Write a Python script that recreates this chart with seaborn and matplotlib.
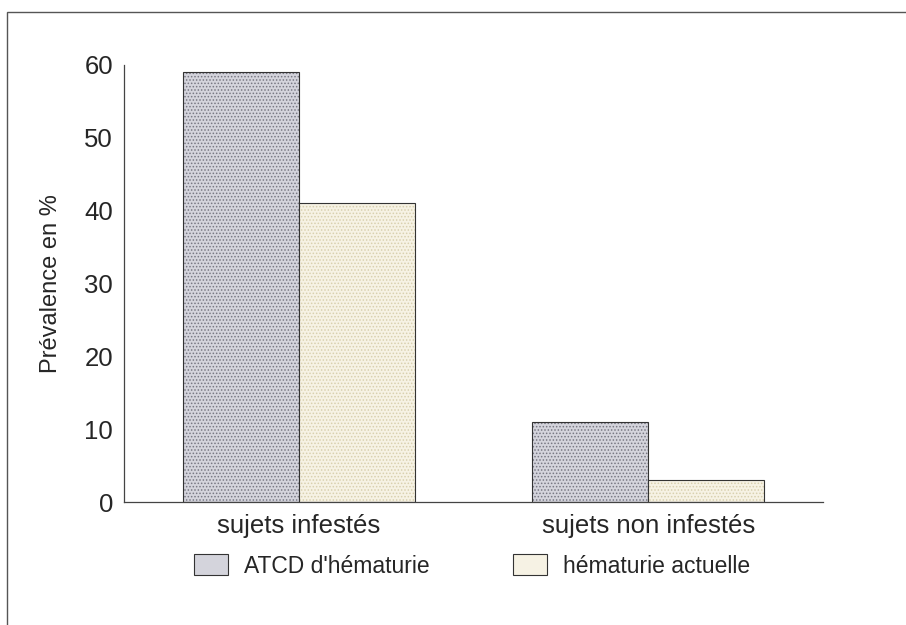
import matplotlib
matplotlib.use("Agg")
import matplotlib.pyplot as plt
import pandas as pd
import seaborn as sns
from matplotlib.patches import Rectangle

categories = ["sujets infestés", "sujets non infestés"]
series = ["ATCD d'hématurie", "hématurie actuelle"]
atcd_values = [59, 11]
actuelle_values = [41, 3]
y_ticks = [0, 10, 20, 30, 40, 50, 60]

df = pd.DataFrame({
    "groupe": categories * 2,
    "serie": [series[0]] * 2 + [series[1]] * 2,
    "valeur": atcd_values + actuelle_values,
})

sns.set_style("white")
plt.rcParams["font.family"] = ["Liberation Sans", "DejaVu Sans"]
plt.rcParams["hatch.linewidth"] = 0.7

fig = plt.figure(figsize=(9.06, 6.25), dpi=100)
ax = fig.add_axes([124 / 906, 1 - 502 / 625, (823 - 124) / 906, (502 - 65) / 625])

palette = {series[0]: "#d4d4dc", series[1]: "#f6f2e4"}
sns.barplot(data=df, x="groupe", y="valeur", hue="serie", order=categories,
            hue_order=series, palette=palette, width=0.665, ax=ax,
            edgecolor="#333333", linewidth=0.8, saturation=1)

# fine dotted texture on the bars
hatch_colors = ["#777782", "#d8d0ae"]
for cont, hc in zip(ax.containers, hatch_colors):
    for bar in cont:
        bar.set_hatch(".....")
        bar._hatch_color = matplotlib.colors.to_rgba(hc)

ax.set_xlim(-0.5, 1.5)
ax.set_ylim(0, 60)
ax.set_yticks(y_ticks)
ax.set_xticks([0, 1])
ax.set_xticklabels(categories)
ax.set_xticks([-0.5, 0.5, 1.5], minor=True)
ax.tick_params(axis="x", which="major", length=0, pad=9, labelsize=18.5)
ax.tick_params(axis="x", which="minor", length=8, direction="inout", color="#444444")
ax.tick_params(axis="y", length=5, direction="out", labelsize=18.5, color="#444444", pad=3)
ax.set_xlabel("")
ax.set_ylabel("Prévalence en %", fontsize=17, labelpad=16)
for side in ["top", "right"]:
    ax.spines[side].set_visible(False)
for side in ["left", "bottom"]:
    ax.spines[side].set_color("#444444")
    ax.spines[side].set_linewidth(0.9)

handles, labels = ax.get_legend_handles_labels()
ax.get_legend().remove()
fig.legend(handles, labels, loc="center", bbox_to_anchor=(472 / 906, 1 - 566 / 625),
           ncol=2, frameon=False, fontsize=16.5, handlelength=1.5, handleheight=1.0,
           columnspacing=3.6, handletextpad=0.7)

fig.patches.append(Rectangle((7 / 906, -0.05), 1.2, 1 - 12 / 625 + 0.05,
                             transform=fig.transFigure, fill=False,
                             edgecolor="#555555", linewidth=1.0))

fig.savefig("out.png", dpi=100)
